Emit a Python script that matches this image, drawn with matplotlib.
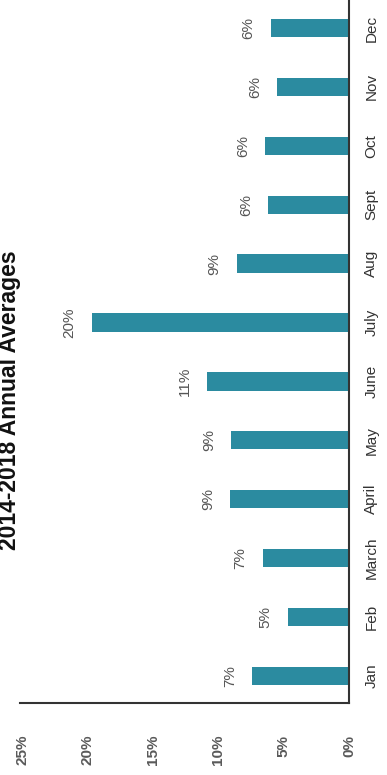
import matplotlib
matplotlib.use("Agg")
import matplotlib.pyplot as plt

plt.rcParams['font.family'] = ['Liberation Sans', 'DejaVu Sans']

# Monthly share of the annual total, 2014-2018 averages
months = ["Jan", "Feb", "March", "April", "May", "June",
          "July", "Aug", "Sept", "Oct", "Nov", "Dec"]
shares = [7.4, 4.7, 6.6, 9.1, 9.0, 10.9, 19.7, 8.6, 6.2, 6.4, 5.5, 6.0]
value_ticks = [0, 5, 10, 15, 20, 25]
title = "2014-2018 Annual Averages"

W, H, DPI = 387, 775, 100
fig = plt.figure(figsize=(W / DPI, H / DPI), dpi=DPI)
fig.patch.set_facecolor("white")

# Axes placed in pixel units (left, bottom, width, height)
left_px, bottom_px, right_px, top_px = 20, 72, 349, 776.5
ax = fig.add_axes([left_px / W, bottom_px / H,
                   (right_px - left_px) / W, (top_px - bottom_px) / H])

bar_color = "#2B8BA0"
pos = list(range(len(months)))
ax.barh(pos, shares, height=0.31, color=bar_color)

# Value axis runs right-to-left, months bottom-to-top
ax.set_xlim(25.2, 0)
ax.set_ylim(-0.46, 11.5)

for p, v in zip(pos, shares):
    ax.annotate(f"{v:.0f}%", xy=(v, p), xytext=(-16, 0),
                textcoords="offset points", rotation=90,
                ha="center", va="center", fontsize=11, color="#555555")

ax.yaxis.tick_right()
ax.set_yticks(pos)
ax.set_yticklabels(months, rotation=90, va="center", fontsize=11,
                   color="#333333")
ax.tick_params(axis="y", length=0, pad=11)

ax.set_xticks(value_ticks)
ax.set_xticklabels([f"{t}%" for t in value_ticks], rotation=90,
                   fontsize=11, fontweight="bold", color="#5a5a5a")
ax.tick_params(axis="x", length=0, pad=23)

for side in ("left", "top"):
    ax.spines[side].set_visible(False)
for side in ("right", "bottom"):
    ax.spines[side].set_color("#333333")
    ax.spines[side].set_linewidth(1.5)

fig.text(10 / W, 1 - 400 / H, title, rotation=90, ha="center", va="center",
         fontsize=16.5, fontweight="bold", color="#111111")

fig.savefig("out.png", dpi=DPI, facecolor="white")
